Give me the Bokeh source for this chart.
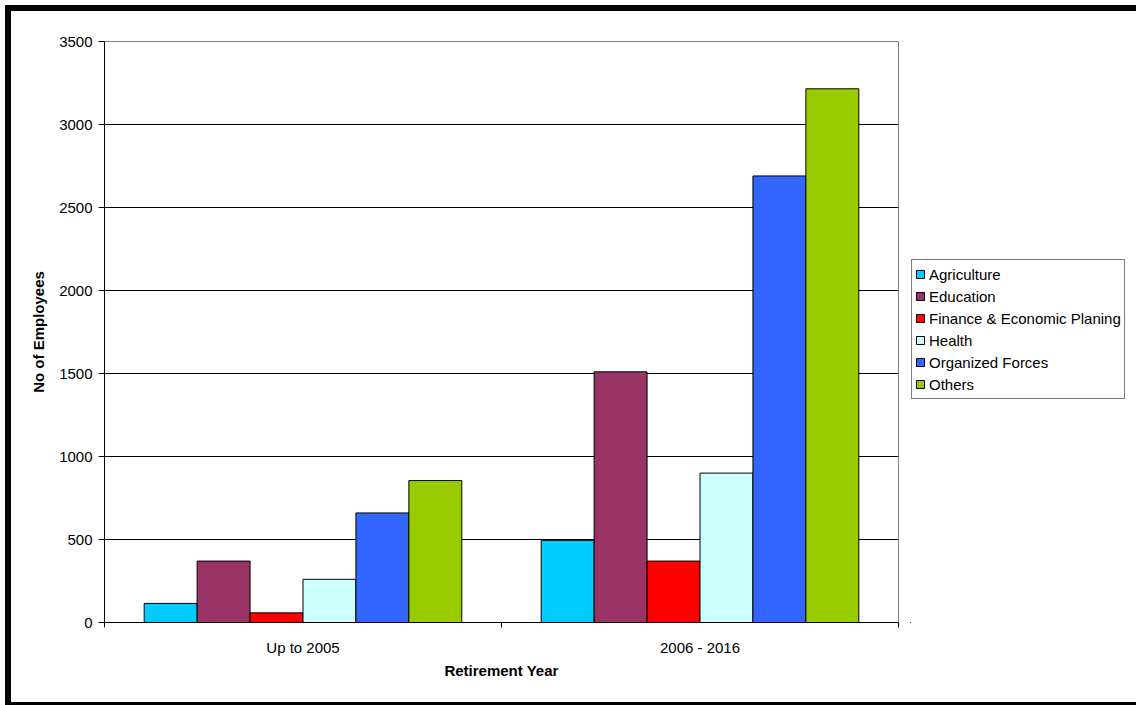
from bokeh.plotting import figure
from bokeh.layouts import row
from bokeh.models import (Range1d, LinearAxis, FixedTicker, Legend, LegendItem)
from bokeh.transform import dodge
from bokeh.embed import file_html
from bokeh.resources import INLINE

categories = ["Up to 2005", "2006 - 2016"]
series_names = ["Agriculture", "Education", "Finance & Economic Planing", "Health",
                "Organized Forces", "Others"]
agriculture = [115, 495]
education = [370, 1510]
finance = [58, 370]
health = [260, 900]
organized_forces = [660, 2690]
others = [855, 3215]
y_ticks = [0, 500, 1000, 1500, 2000, 2500, 3000, 3500]

colors = ["#00CCFF", "#993366", "#FF0000", "#CCFFFF", "#3366FF", "#99CC00"]
series_values = [agriculture, education, finance, health, organized_forces, others]

FONT = "Liberation Sans"

ncat = len(categories)
centers = [i + 0.5 for i in range(ncat)]
bounds = list(range(ncat + 1))

# ---- main chart ----
p = figure(width=910, height=705, output_backend="svg", toolbar_location=None,
           x_range=Range1d(0, ncat), y_range=Range1d(0, 3500),
           x_axis_location=None, y_axis_location=None,
           min_border_left=104, min_border_right=12, min_border_top=41, min_border_bottom=83)
p.background_fill_color = "white"
p.border_fill_color = None
p.outline_line_color = "#808080"
p.outline_line_width = 1

yax = LinearAxis(ticker=FixedTicker(ticks=y_ticks))
yax.axis_line_color = "black"
yax.major_tick_line_color = "black"
yax.major_tick_out = 6
yax.major_tick_in = 0
yax.minor_tick_line_color = None
yax.major_label_standoff = 6
yax.major_label_text_font = FONT
yax.major_label_text_font_size = "15px"
yax.major_label_text_color = "black"
yax.axis_label = "No of Employees"
yax.axis_label_text_font = FONT
yax.axis_label_text_font_style = "bold"
yax.axis_label_text_font_size = "15px"
yax.axis_label_text_color = "black"
yax.axis_label_standoff = 9
p.add_layout(yax, "left")

xax = LinearAxis(ticker=FixedTicker(ticks=centers, minor_ticks=bounds))
xax.major_label_overrides = {c: lab for c, lab in zip(centers, categories)}
xax.axis_line_color = "black"
xax.major_tick_line_color = None
xax.major_tick_out = 0
xax.major_tick_in = 0
xax.minor_tick_line_color = "black"
xax.minor_tick_out = 5
xax.minor_tick_in = 0
xax.major_label_standoff = 11
xax.major_label_text_font = FONT
xax.major_label_text_font_size = "15px"
xax.major_label_text_color = "black"
xax.axis_label = "Retirement Year"
xax.axis_label_text_font = FONT
xax.axis_label_text_font_style = "bold"
xax.axis_label_text_font_size = "15px"
xax.axis_label_text_color = "black"
xax.axis_label_standoff = 3
p.add_layout(xax, "below")

p.xgrid.visible = False
p.ygrid.ticker = FixedTicker(ticks=y_ticks)
p.ygrid.grid_line_color = "black"
p.ygrid.grid_line_width = 1

data = {"x": centers}
for name, vals in zip(series_names, series_values):
    data[name] = vals

n = len(series_names)
bw = 0.8 / n
for i, (name, col) in enumerate(zip(series_names, colors)):
    off = (i - (n - 1) / 2) * bw
    p.vbar(x=dodge("x", off), top=name, width=bw, source=data,
           fill_color=col, line_color="black", line_width=1)

# ---- legend panel (legend only; its swatch renderers sit outside the visible range) ----
q = figure(width=226, height=705, output_backend="svg", toolbar_location=None,
           x_range=Range1d(0, 1), y_range=Range1d(0, 1),
           x_axis_location=None, y_axis_location=None,
           min_border_left=0, min_border_right=0, min_border_top=41, min_border_bottom=83)
q.outline_line_color = None
q.background_fill_color = None
q.border_fill_color = None
q.xgrid.visible = False
q.ygrid.visible = False

items = []
for name, col in zip(series_names, colors):
    r = q.vbar(x=[-5], top=[-5], bottom=[-6], width=0.1,
               fill_color=col, line_color="black", line_width=1)
    items.append(LegendItem(label=name, renderers=[r]))

legend = Legend(items=items, location=(1, 223))
legend.label_text_font = FONT
legend.label_text_font_size = "15px"
legend.label_text_color = "black"
legend.glyph_width = 10
legend.glyph_height = 10
legend.label_height = 22
legend.label_standoff = 4
legend.spacing = 0
legend.padding = 3
legend.margin = 0
legend.border_line_color = "black"
legend.border_line_width = 1
legend.background_fill_color = "white"
legend.background_fill_alpha = 1
q.add_layout(legend, "center")

layout = row(p, q)
layout.styles = {"background-color": "white",
                 "box-shadow": "inset 5px 5px 0 0 white, inset 11px 11px 0 0 black, inset 0 -3px 0 0 black"}

open("out.html", "w").write(file_html(layout, INLINE))
